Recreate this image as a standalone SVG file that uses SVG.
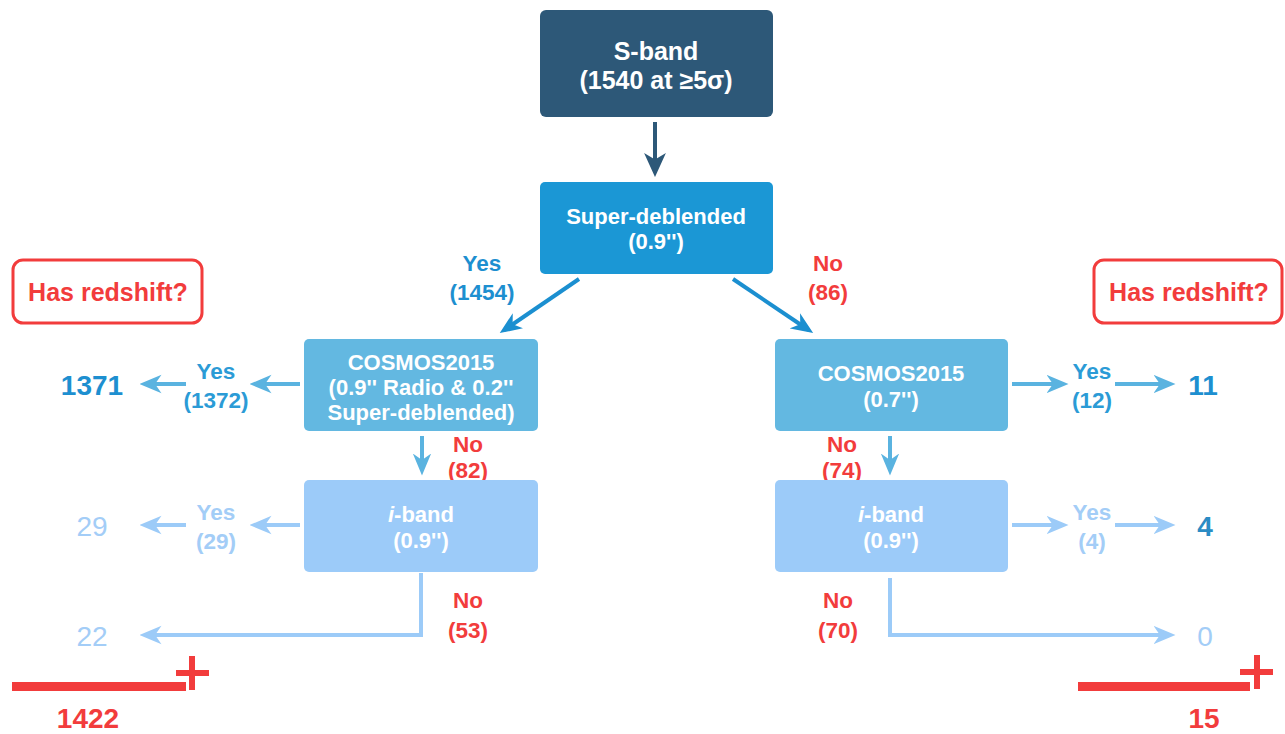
<svg xmlns="http://www.w3.org/2000/svg" width="1285" height="734" viewBox="0 0 1285 734">
<style>
text{font-family:"Liberation Sans",Arial,sans-serif;font-weight:bold;text-anchor:middle}
.w{fill:#ffffff;font-size:22px}
.big{font-size:25px}
.lb{font-size:22.5px}
.blue{fill:#1d8fd0}
.red{fill:#f23c3c}
.lt{fill:#a3cdf7}
.num{font-size:28px}
.ln{fill:none;stroke-width:4}
</style>
<defs>
<marker id="aDark" viewBox="0 0 11 10" refX="8" refY="5" markerWidth="24" markerHeight="22" orient="auto" markerUnits="userSpaceOnUse"><path d="M0,0 L11,5 L0,10 L3,5 z" fill="#2d5878"/></marker>
<marker id="aBlue" viewBox="0 0 12 10" refX="9" refY="5" markerWidth="22" markerHeight="20" orient="auto" markerUnits="userSpaceOnUse"><path d="M0,0 L12,5 L0,10 L3.5,5 z" fill="#1b8fd0"/></marker>
<marker id="aMid" viewBox="0 0 12 10" refX="9" refY="5" markerWidth="22" markerHeight="20" orient="auto" markerUnits="userSpaceOnUse"><path d="M0,0 L12,5 L0,10 L3.5,5 z" fill="#5ab3e0"/></marker>
<marker id="aLt" viewBox="0 0 12 10" refX="9" refY="5" markerWidth="22" markerHeight="20" orient="auto" markerUnits="userSpaceOnUse"><path d="M0,0 L12,5 L0,10 L3.5,5 z" fill="#9ccbf8"/></marker>
</defs>

<g id="connectors">
<line class="ln" x1="655" y1="122" x2="655" y2="170.5" stroke="#2d5878" stroke-width="5" marker-end="url(#aDark)"/>
<line class="ln" x1="579" y1="279" x2="504.3" y2="330" stroke="#1b8fd0" marker-end="url(#aBlue)"/>
<line class="ln" x1="733" y1="279" x2="808.6" y2="330" stroke="#1b8fd0" marker-end="url(#aBlue)"/>
<line class="ln" x1="300" y1="384" x2="255" y2="384" stroke="#5ab3e0" marker-end="url(#aMid)"/>
<line class="ln" x1="186" y1="384" x2="145" y2="384" stroke="#5ab3e0" marker-end="url(#aMid)"/>
<line class="ln" x1="1012" y1="384" x2="1063" y2="384" stroke="#5ab3e0" marker-end="url(#aMid)"/>
<line class="ln" x1="1115" y1="384" x2="1170" y2="384" stroke="#5ab3e0" marker-end="url(#aMid)"/>
<line class="ln" x1="422" y1="436" x2="422" y2="470" stroke="#5ab3e0" marker-end="url(#aMid)"/>
<line class="ln" x1="890" y1="436" x2="890" y2="470" stroke="#5ab3e0" marker-end="url(#aMid)"/>
<line class="ln" x1="300" y1="525" x2="255" y2="525" stroke="#9ccbf8" marker-end="url(#aLt)"/>
<line class="ln" x1="186" y1="525" x2="145" y2="525" stroke="#9ccbf8" marker-end="url(#aLt)"/>
<line class="ln" x1="1012" y1="525" x2="1063" y2="525" stroke="#9ccbf8" marker-end="url(#aLt)"/>
<line class="ln" x1="1115" y1="525" x2="1170" y2="525" stroke="#9ccbf8" marker-end="url(#aLt)"/>
<path class="ln" d="M421,573 V635 H145" stroke="#9ccbf8" marker-end="url(#aLt)"/>
<path class="ln" d="M890,578 V635 H1170" stroke="#9ccbf8" marker-end="url(#aLt)"/>
</g>

<g id="sband">
<rect x="540" y="10" width="233" height="107" rx="6" fill="#2d5878"/>
<text class="w big" x="656" y="60">S-band</text>
<text class="w big" x="656" y="89">(1540 at ≥5σ)</text>
</g>

<g id="superdeblended">
<rect x="540" y="182" width="233" height="92" rx="5" fill="#1b97d5"/>
<text class="w" x="656" y="224">Super-deblended</text>
<text class="w" x="656" y="249">(0.9'')</text>
</g>

<g id="label-yes-1454">
<text class="lb blue" x="482" y="271">Yes</text>
<text class="lb blue" x="482" y="300">(1454)</text>
</g>
<g id="label-no-86">
<text class="lb red" x="828" y="271">No</text>
<text class="lb red" x="828" y="300">(86)</text>
</g>

<g id="has-redshift-left">
<rect x="13" y="260" width="189" height="63" rx="10" fill="#ffffff" stroke="#f23c3c" stroke-width="3"/>
<text class="big red" x="108" y="301">Has redshift?</text>
</g>
<g id="has-redshift-right">
<rect x="1094" y="260" width="188" height="63" rx="10" fill="#ffffff" stroke="#f23c3c" stroke-width="3"/>
<text class="big red" x="1189" y="301">Has redshift?</text>
</g>

<g id="cosmos-left">
<rect x="304" y="339" width="234" height="92" rx="5" fill="#63b8e1"/>
<text class="w" x="421" y="370">COSMOS2015</text>
<text class="w" x="421" y="395">(0.9'' Radio &amp; 0.2''</text>
<text class="w" x="421" y="420">Super-deblended)</text>
</g>
<g id="cosmos-right">
<rect x="775" y="339" width="233" height="92" rx="5" fill="#63b8e1"/>
<text class="w" x="891" y="381">COSMOS2015</text>
<text class="w" x="891" y="407">(0.7'')</text>
</g>

<g id="label-yes-1372">
<text class="lb" fill="#2b9bd6" x="216" y="379">Yes</text>
<text class="lb" fill="#2b9bd6" x="216" y="408">(1372)</text>
</g>
<g id="result-1371"><text class="num blue" x="92" y="395">1371</text></g>
<g id="label-yes-12">
<text class="lb" fill="#2b9bd6" x="1092" y="379">Yes</text>
<text class="lb" fill="#2b9bd6" x="1092" y="408">(12)</text>
</g>
<g id="result-11"><text class="num blue" x="1203" y="395">11</text></g>

<g id="label-no-82">
<text class="lb red" x="468" y="452">No</text>
<text class="lb red" x="468" y="478">(82)</text>
</g>
<g id="label-no-74">
<text class="lb red" x="842" y="452">No</text>
<text class="lb red" x="842" y="478">(74)</text>
</g>

<g id="iband-left">
<rect x="304" y="480" width="234" height="92" rx="5" fill="#9ccbf9"/>
<text class="w" x="421" y="522"><tspan font-style="italic">i</tspan>-band</text>
<text class="w" x="421" y="548">(0.9'')</text>
</g>
<g id="iband-right">
<rect x="775" y="480" width="233" height="92" rx="5" fill="#9ccbf9"/>
<text class="w" x="891" y="522"><tspan font-style="italic">i</tspan>-band</text>
<text class="w" x="891" y="548">(0.9'')</text>
</g>

<g id="label-yes-29">
<text class="lb lt" x="216" y="520">Yes</text>
<text class="lb lt" x="216" y="549">(29)</text>
</g>
<g id="result-29"><text class="num lt" x="92" y="536" style="font-weight:normal">29</text></g>
<g id="label-yes-4">
<text class="lb lt" x="1092" y="520">Yes</text>
<text class="lb lt" x="1092" y="549">(4)</text>
</g>
<g id="result-4"><text class="num" fill="#2b8cc4" x="1205" y="536">4</text></g>

<g id="label-no-53">
<text class="lb red" x="468" y="608">No</text>
<text class="lb red" x="468" y="638">(53)</text>
</g>
<g id="label-no-70">
<text class="lb red" x="838" y="608">No</text>
<text class="lb red" x="838" y="638">(70)</text>
</g>
<g id="result-22"><text class="num lt" x="92" y="646" style="font-weight:normal">22</text></g>
<g id="result-0"><text class="num lt" x="1205" y="646" style="font-weight:normal">0</text></g>

<g id="sum-left">
<rect x="12" y="682" width="174" height="9" fill="#f23c3c"/>
<rect x="176" y="670" width="33" height="6" fill="#f23c3c"/>
<rect x="189" y="656" width="6" height="34" fill="#f23c3c"/>
<text class="num red" x="88" y="728">1422</text>
</g>
<g id="sum-right">
<rect x="1078" y="682" width="172" height="9" fill="#f23c3c"/>
<rect x="1240" y="669" width="33" height="6" fill="#f23c3c"/>
<rect x="1254" y="655" width="6" height="34" fill="#f23c3c"/>
<text class="num red" x="1204" y="728">15</text>
</g>
</svg>
